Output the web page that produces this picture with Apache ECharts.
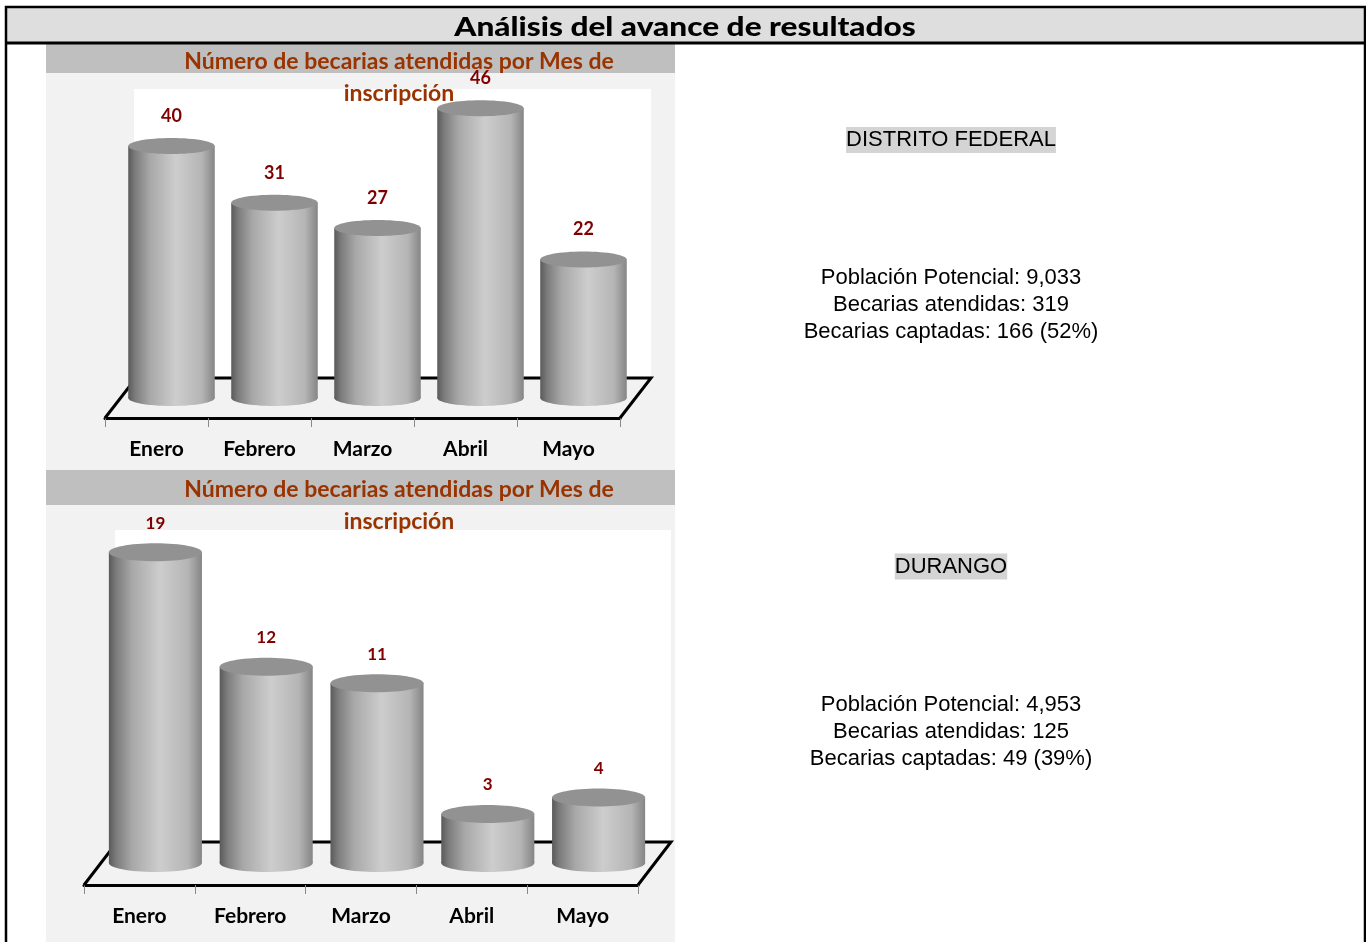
<!DOCTYPE html>
<html>
<head>
<meta charset="utf-8">
<style>
    html, body { margin: 0; padding: 0; background: #fff; }
    #chart { width: 1366px; height: 942px; }
</style>
<script src="https://cdn.jsdelivr.net/npm/echarts@6/dist/echarts.min.js"></script>
</head>
<body>
<div id="chart"></div>
<script>
const meses = ['Enero', 'Febrero', 'Marzo', 'Abril', 'Mayo']
const valoresDF = [40, 31, 27, 46, 22]
const valoresDurango = [19, 12, 11, 3, 4]
const encabezado = 'Análisis del avance de resultados'
const tituloGrafica = 'Número de becarias atendidas por Mes de\ninscripción'
const textoDF = ['DISTRITO FEDERAL', 'Población Potencial: 9,033', 'Becarias atendidas: 319', 'Becarias captadas: 166 (52%)']
const textoDurango = ['DURANGO', 'Población Potencial: 4,953', 'Becarias atendidas: 125', 'Becarias captadas: 49 (39%)']

const cuerpo = {
    type: 'linear', x: 0, y: 0, x2: 1, y2: 0,
    colorStops: [
        { offset: 0, color: '#5a5a5a' },
        { offset: 0.08, color: '#7c7c7c' },
        { offset: 0.25, color: '#a8a8a8' },
        { offset: 0.55, color: '#cdcdcd' },
        { offset: 0.85, color: '#b5b5b5' },
        { offset: 1, color: '#858585' }
    ]
}

// piso y pared, salen del grid con el desplazamiento de profundidad
function piso(dx, dy, alto) {
    return (params) => {
        const c = params.coordSys
        const yb = c.y + c.height
        return {
            type: 'group',
            children: [
                {
                    type: 'rect',
                    shape: { x: c.x + dx - 2, y: yb + dy - alto, width: c.width + 2, height: alto },
                    style: { fill: '#fff' }
                },
                {
                    type: 'polyline',
                    shape: { points: [[c.x, yb], [c.x + dx, yb + dy], [c.x + c.width + dx, yb + dy], [c.x + c.width, yb]] },
                    style: { stroke: '#000', lineWidth: 3, fill: null }
                }
            ]
        }
    }
}

// cilindro a media profundidad del piso
function cilindro(dx, dy, ry, sube, fuente) {
    return (params, api) => {
        const p = api.coord([api.value(0), api.value(1)])
        const base = api.coord([api.value(0), 0])
        const rx = api.size([1, 0])[0] * 0.42
        const x = p[0] + dx
        const yTop = p[1] + dy
        const yBase = base[1] + dy
        return {
            type: 'group',
            children: [
                { type: 'ellipse', shape: { cx: x, cy: yBase, rx: rx, ry: ry }, style: { fill: cuerpo } },
                { type: 'rect', shape: { x: x - rx, y: yTop, width: rx * 2, height: yBase - yTop }, style: { fill: cuerpo } },
                { type: 'ellipse', shape: { cx: x, cy: yTop, rx: rx, ry: ry }, style: { fill: '#929292' } },
                {
                    type: 'text',
                    style: {
                        x: x, y: yTop - sube, text: String(api.value(1)), fill: '#800000',
                        align: 'center', verticalAlign: 'middle', font: fuente
                    }
                }
            ]
        }
    }
}

function titulo(top) {
    return {
        text: tituloGrafica, left: 399, top: top, textAlign: 'center', padding: 0,
        textStyle: { fontFamily: 'Lato', fontWeight: 'bold', fontSize: 23, lineHeight: 32, color: '#993300' }
    }
}

function ejeX(idx) {
    return {
        type: 'category', gridIndex: idx, data: meses,
        axisLine: { show: true, lineStyle: { color: '#000', width: 3 } },
        axisTick: { show: true, length: 9, lineStyle: { color: '#888', width: 1 } },
        axisLabel: { margin: 21, color: '#000', fontFamily: 'Lato', fontWeight: 'bold', fontSize: 21 }
    }
}

function textoLado(y, lineas) {
    const estilo = { align: 'center', verticalAlign: 'middle', font: '22px "Liberation Sans"', fill: '#000' }
    return [
        { type: 'text', z: 5, style: { ...estilo, x: 951, y: y, text: lineas[0], backgroundColor: '#d4d4d4', padding: [2, 0, 2, 0] } },
        { type: 'text', z: 5, style: { ...estilo, x: 951, y: y + 138, text: lineas[1] } },
        { type: 'text', z: 5, style: { ...estilo, x: 951, y: y + 165, text: lineas[2] } },
        { type: 'text', z: 5, style: { ...estilo, x: 951, y: y + 192, text: lineas[3] } }
    ]
}

function rect(x, y, w, h, color) {
    return { type: 'rect', z: -5, shape: { x: x, y: y, width: w, height: h }, style: { fill: color } }
}

const myChart = echarts.init(document.getElementById('chart'), null, { renderer: 'canvas' })
myChart.setOption({
    animation: false,
    backgroundColor: '#fff',
    title: [titulo(46), titulo(474)],
    grid: [
        { left: 105, width: 515, top: 103, height: 315 },
        { left: 84, width: 554, top: 558, height: 327 }
    ],
    xAxis: [ejeX(0), ejeX(1)],
    yAxis: [
        { type: 'value', gridIndex: 0, min: 0, max: 50, show: false },
        { type: 'value', gridIndex: 1, min: 0, max: 20, show: false }
    ],
    graphic: {
        elements: [
            rect(46, 44, 629, 898, '#f2f2f2'),
            rect(46, 44, 629, 29, '#bfbfbf'),
            rect(46, 470, 629, 35, '#bfbfbf'),
            rect(6, 7, 1360, 36, '#dedede'),
            { type: 'rect', z: 5, shape: { x: 6, y: 7, width: 1359, height: 1200 }, style: { fill: null, stroke: '#000', lineWidth: 2.5 } },
            { type: 'line', z: 5, shape: { x1: 6, y1: 43, x2: 1366, y2: 43 }, style: { stroke: '#000', lineWidth: 3 } },
            {
                type: 'text', z: 5, x: 685, y: 27, scaleX: 1.17,
                style: {
                    x: 0, y: 0, text: encabezado, align: 'center', verticalAlign: 'middle',
                    font: '900 27px Lato', fill: '#000'
                }
            },
            ...textoLado(140, textoDF),
            ...textoLado(566.5, textoDurango)
        ]
    },
    series: [
        {
            type: 'custom', xAxisIndex: 0, yAxisIndex: 0, z: 1, silent: true,
            data: [[0, 0]], renderItem: piso(31, -40, 289)
        },
        {
            type: 'custom', xAxisIndex: 1, yAxisIndex: 1, z: 1, silent: true,
            data: [[0, 0]], renderItem: piso(33, -43, 312)
        },
        {
            name: 'Distrito Federal', type: 'custom', xAxisIndex: 0, yAxisIndex: 0, z: 3,
            data: valoresDF.map((v, i) => [i, v]),
            encode: { x: 0, y: 1 },
            renderItem: cilindro(15, -20, 8, 30, 'bold 18px Lato')
        },
        {
            name: 'Durango', type: 'custom', xAxisIndex: 1, yAxisIndex: 1, z: 3,
            data: valoresDurango.map((v, i) => [i, v]),
            encode: { x: 0, y: 1 },
            renderItem: cilindro(16, -22, 9, 29, 'bold 17px Lato')
        }
    ]
})
</script>
</body>
</html>
